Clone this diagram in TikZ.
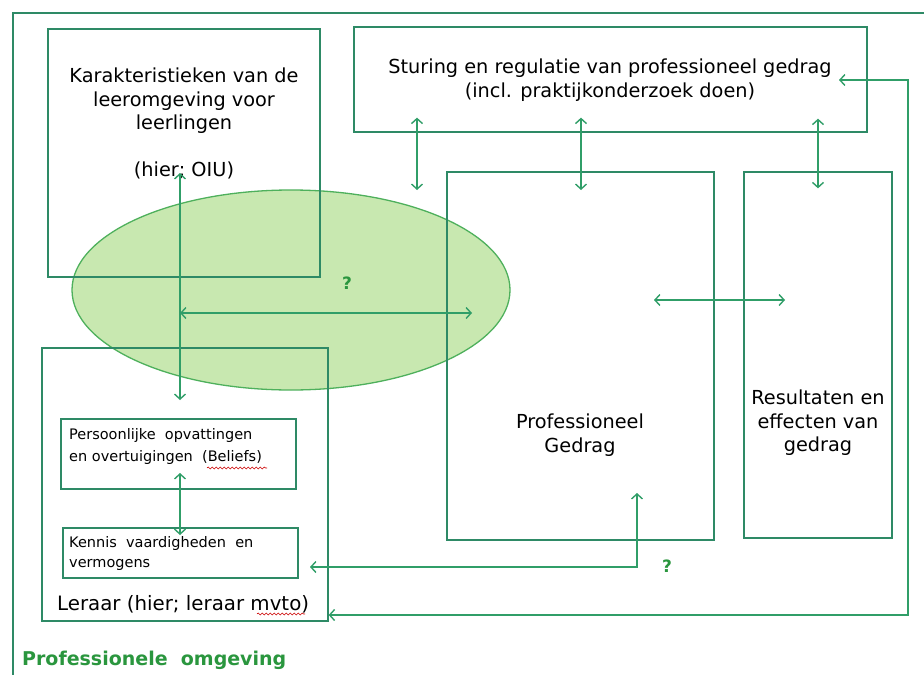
\documentclass[tikz,border=0pt]{standalone}
\usepackage{fontspec}
\setmainfont{DejaVu Sans}
\usetikzlibrary{positioning,arrows.meta,shapes.geometric,decorations.pathmorphing}
\definecolor{boxgreen}{RGB}{46,138,102}
\definecolor{arrowgreen}{RGB}{48,158,104}
\definecolor{blobfill}{RGB}{200,232,176}
\definecolor{blobline}{RGB}{78,176,92}
\definecolor{textgreen}{RGB}{42,150,62}
\tikzset{
  bx/.style={draw=boxgreen, line width=1.3pt, inner sep=0pt},
  lbl/.style={font=\fontsize{19.3}{23.5}\selectfont, align=center, inner sep=0pt},
  sml/.style={font=\fontsize{14.5}{21}\selectfont, align=left, inner sep=0pt},
  da/.style={{Straight Barb[length=5pt,width=11pt]}-{Straight Barb[length=5pt,width=11pt]},
             arrowgreen, line width=1.4pt},
  qm/.style={text=textgreen, font=\bfseries\fontsize{17}{17}\selectfont},
  squig/.style={red!80!black, line width=0.6pt,
                decorate, decoration={snake, amplitude=1pt, segment length=4pt}}
}
\begin{document}
\begin{tikzpicture}[x=1pt, y=-1pt]
  \useasboundingbox (0,0) rectangle (924,675);
  \fill[white] (0,0) rectangle (924,675);
  % outer frame (professional environment)
  \draw[boxgreen, line width=1.3pt] (924,13) -- (13,13) -- (13,675);
  % blob between environment and teacher
  \node[ellipse, draw=blobline, fill=blobfill, line width=1.3pt,
        minimum width=438pt, minimum height=200pt] (blob) at (291,290) {};
  % boxes
  \node[bx, minimum width=272pt, minimum height=248pt] (karak) at (184,153) {};
  \node[bx, minimum width=513pt, minimum height=105pt] (sturing) at (610.5,79.5) {};
  \node[bx, minimum width=267pt, minimum height=368pt] (prof) at (580.5,356) {};
  \node[bx, minimum width=148pt, minimum height=366pt] (result) at (818,355) {};
  \node[bx, minimum width=286pt, minimum height=273pt] (leraar) at (185,484.5) {};
  \node[bx, minimum width=235pt, minimum height=70pt] (pers) at (178.5,454) {};
  \node[bx, minimum width=235pt, minimum height=50pt] (kennis) at (180.5,553) {};
  % texts
  \node[lbl, anchor=north] (karaktxt) at (184,68)
    {Karakteristieken van de\\leeromgeving voor\\leerlingen\\[23pt](hier; OIU)};
  \node[lbl] (sturtxt) at (610,80)
    {Sturing en regulatie van professioneel gedrag\\(incl. praktijkonderzoek doen)};
  \node[lbl] (proftxt) at (580,435) {Professioneel\\Gedrag};
  \node[lbl] (restxt) at (818,423) {Resultaten en\\effecten van\\gedrag};
  \node[sml, anchor=north west, font=\fontsize{14.5}{22}\selectfont] (perstxt) at (69,428)
    {Persoonlijke\ \ opvattingen\\en\ overtuigingen\ \ (Beliefs)};
  \node[sml, anchor=north west, font=\fontsize{14.5}{20}\selectfont] (kentxt) at (69,536)
    {Kennis\ \ vaardigheden\ \ en\\vermogens};
  \node[lbl, anchor=base west, font=\fontsize{19.8}{23}\selectfont] (lertxt) at (57,610)
    {Leraar (hier; leraar mvto)};
  \node[text=textgreen, font=\bfseries\fontsize{19}{19}\selectfont, anchor=base west,
        inner sep=0pt] (omgtxt) at (22,665) {Professionele\ \ omgeving};
  \node[qm] (q1) at (347,283) {?};
  \node[qm] (q2) at (667,566) {?};
  % spelling marks
  \draw[squig] (207,468) -- (267,468);
  \draw[squig] (257,614) -- (305,614);
  % connectors
  \draw[da] (sturing.south -| 417,0) ++(0,-15) -- (417,190);
  \draw[da] (sturing.south -| 581,0) ++(0,-15) -- (581,190);
  \draw[da] (sturing.south -| result.north) ++(0,-14) -- ([yshift=-17pt]result.north);
  \draw[da] (654,300) -- (785,300);
  \draw[da] (180,173) -- (180,400);
  \draw[da] (180,313) -- (472,313);
  \draw[da] (180,473) -- (180,535);
  \draw[da] (310,567) -| (637,493);
  \draw[da] (839,80) -- (908,80) -- (908,615) -- (leraar.east |- 0,615);
\end{tikzpicture}
\end{document}
